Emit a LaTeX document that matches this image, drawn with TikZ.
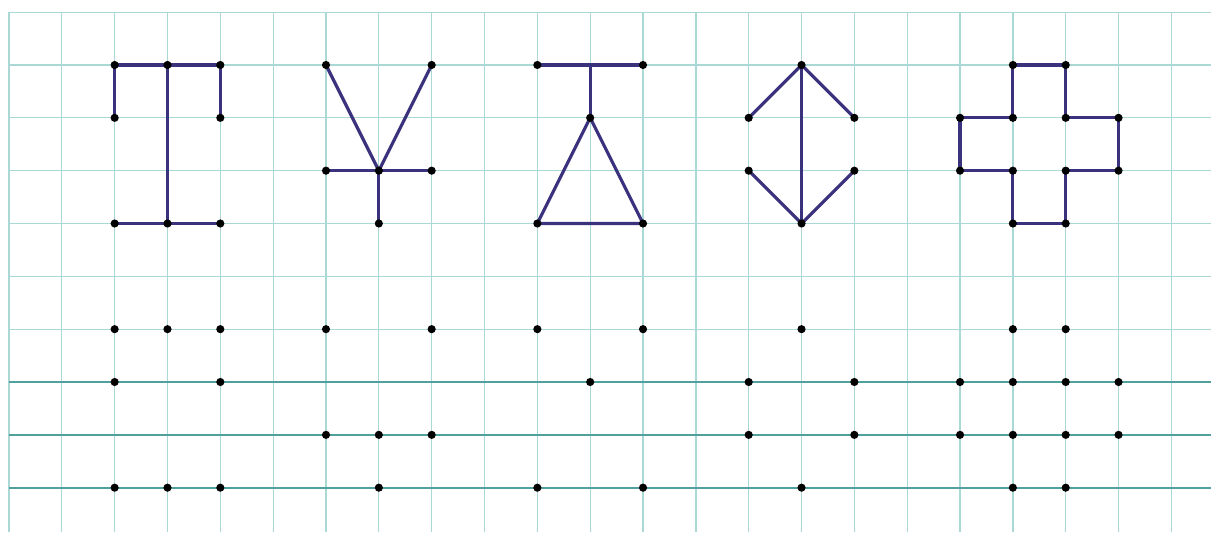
\documentclass[tikz,border=0pt]{standalone}
\usetikzlibrary{positioning}
\definecolor{gridcyan}{RGB}{170,216,212}
\definecolor{rulecyan}{RGB}{80,160,158}
\definecolor{figblue}{RGB}{58,50,124}
\tikzstyle{gridline} = [draw=gridcyan, line width=0.7pt]
\tikzstyle{ruleline} = [draw=rulecyan, line width=0.9pt]
\tikzstyle{figline} = [draw=figblue, line width=1.7pt, line join=round]
\tikzstyle{dot} = [fill=black]

\begin{document}
\begin{tikzpicture}
    \useasboundingbox[fill=white] (-0.17,0.23) rectangle (22.75,-9.84);
    % grid paper
    \foreach \i in {0,...,22}
      \draw[gridline] (\i,0) -- (\i,-9.84);
    \foreach \j in {0,...,6}
      \draw[gridline] (0,-\j) -- (22.75,-\j);
    \foreach \j in {7,8,9}
      \draw[ruleline] (0,-\j) -- (22.75,-\j);
    % T shape
    \draw[figline] (2,-2) -- (2,-1) -- (4,-1) -- (4,-2);
    \draw[figline] (3,-1) -- (3,-4);
    \draw[figline] (2,-4) -- (4,-4);
    % Y shape
    \draw[figline] (6,-1) -- (7,-3) -- (8,-1);
    \draw[figline] (6,-3) -- (8,-3);
    \draw[figline] (7,-3) -- (7,-4);
    % triangle with bar
    \draw[figline] (10,-1) -- (12,-1);
    \draw[figline] (11,-1) -- (11,-2);
    \draw[figline] (11,-2) -- (10,-4) -- (12,-4) -- cycle;
    % double arrow
    \draw[figline] (14,-2) -- (15,-1) -- (16,-2);
    \draw[figline] (14,-3) -- (15,-4) -- (16,-3);
    \draw[figline] (15,-1) -- (15,-4);
    % cross
    \draw[figline] (18,-2) -- (19,-2) -- (19,-1) -- (20,-1) -- (20,-2) -- (21,-2)
      -- (21,-3) -- (20,-3) -- (20,-4) -- (19,-4) -- (19,-3) -- (18,-3) -- cycle;
    % dots of the drawn figures
    \foreach \x/\y in {2/1,3/1,4/1,2/2,4/2,2/4,3/4,4/4,
                       6/1,8/1,6/3,7/3,8/3,7/4,
                       10/1,12/1,11/2,10/4,12/4,
                       15/1,14/2,16/2,14/3,16/3,15/4,
                       19/1,20/1,18/2,19/2,20/2,21/2,18/3,19/3,20/3,21/3,19/4,20/4}
      \fill[dot] (\x,-\y) circle (2.2pt);
    % dots to be joined
    \foreach \x/\y in {2/6,3/6,4/6,2/7,4/7,2/9,3/9,4/9,
                       6/6,8/6,6/8,7/8,8/8,7/9,
                       10/6,12/6,11/7,10/9,12/9,
                       15/6,14/7,16/7,14/8,16/8,15/9,
                       19/6,20/6,18/7,19/7,20/7,21/7,18/8,19/8,20/8,21/8,19/9,20/9}
      \fill[dot] (\x,-\y) circle (2.2pt);
  \end{tikzpicture}
\end{document}
